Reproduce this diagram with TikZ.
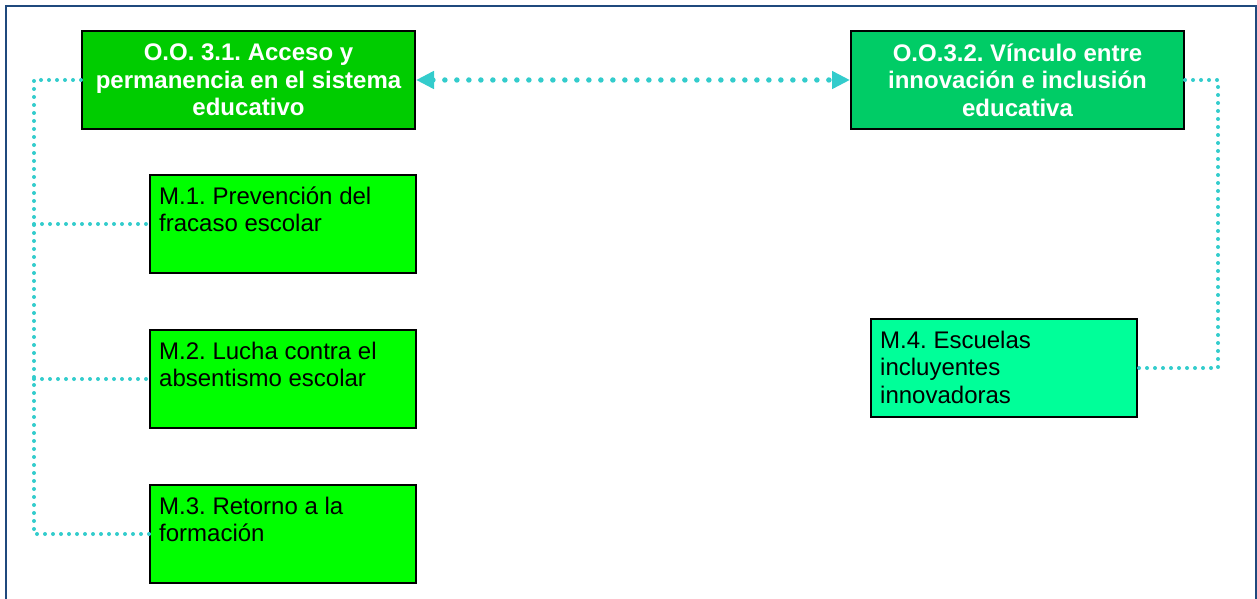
\documentclass[tikz,border=0pt]{standalone}
\usepackage{fontspec}
\setmainfont{Liberation Sans}
\usetikzlibrary{arrows.meta}
\frenchspacing
\definecolor{frameblue}{RGB}{31,73,125}
\definecolor{ooA}{RGB}{0,204,0}
\definecolor{ooB}{RGB}{0,204,102}
\definecolor{mgreen}{RGB}{0,255,0}
\definecolor{mmint}{RGB}{0,255,153}
\definecolor{conn}{RGB}{51,204,204}
\tikzset{
  headbox/.style={draw=black, line width=2pt, minimum width=333pt, minimum height=98pt,
    align=center, text=white, inner sep=0pt, font=\fontsize{24}{27.5}\selectfont\bfseries\frenchspacing},
  mbox/.style={draw=black, line width=2pt, fill=mgreen, minimum width=266pt, minimum height=98pt, inner sep=0pt},
  mtext/.style={anchor=north west, inner sep=0pt, align=left, font=\fontsize{24}{27.5}\selectfont\frenchspacing},
  linkline/.style={draw=conn, line width=4pt, line cap=round, dash pattern=on 0pt off 8pt},
  bigdots/.style={draw=conn, line width=5.5pt, line cap=round, dash pattern=on 0pt off 12pt,
    {Triangle[length=18pt,width=17pt,fill=conn]}-{Triangle[length=18pt,width=17pt,fill=conn]}}
}
\begin{document}
\begin{tikzpicture}[x=1pt,y=-1pt]
\useasboundingbox (0,0) rectangle (1257,599);
\draw[frameblue, line width=2pt] (6,620) -- (6,6) -- (1256,6) -- (1256,620);

\node[headbox, fill=ooA] (oa) at (248.5,80) {O.O. 3.1. Acceso y\\permanencia en el sistema\\educativo};
\node[headbox, fill=ooB] (ob) at (1017.5,80) {O.O.3.2. Vínculo entre\\innovación e inclusión\\educativa};

\node[mbox] (m1) at (283,224) {};
\node[mbox] (m2) at (283,379) {};
\node[mbox] (m3) at (283,534) {};
\node[mbox, fill=mmint] (m4) at (1004,368) {};

\node[mtext] (t1) at ([xshift=10pt,yshift=-10.75pt]m1.north west) {\strut M.1. Prevención del\\fracaso escolar};
\node[mtext] (t2) at ([xshift=10pt,yshift=-10.75pt]m2.north west) {\strut M.2. Lucha contra el\\absentismo escolar};
\node[mtext] (t3) at ([xshift=10pt,yshift=-10.75pt]m3.north west) {\strut M.3. Retorno a la\\formación};
\node[mtext] (t4) at ([xshift=10pt,yshift=-10.75pt]m4.north west) {\strut M.4. Escuelas\\incluyentes\\innovadoras};

\coordinate (lt) at (34,80);
\coordinate (lb) at (34,534);
\coordinate (l1) at (34,224);
\coordinate (l2) at (34,379);
\coordinate (rt) at (1218,80);
\coordinate (rb) at (1218,368);

\draw[linkline] (oa.west) -- (lt) -- (lb) -- (m3.west);
\draw[linkline] (l1) -- (m1.west);
\draw[linkline] (l2) -- (m2.west);
\draw[linkline] (ob.east) -- (rt) -- (rb) -- (m4.east);

\draw[bigdots] (oa.east) -- (ob.west);
\end{tikzpicture}
\end{document}
